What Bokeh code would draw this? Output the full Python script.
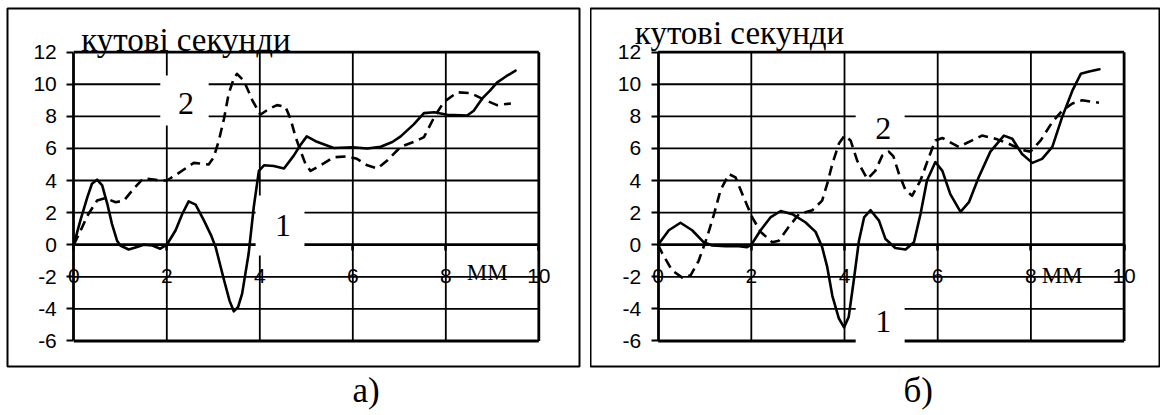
from bokeh.plotting import figure
from bokeh.layouts import row
from bokeh.models import Label, FixedTicker, Range1d
from bokeh.embed import file_html
from bokeh.resources import INLINE

# ---------------- data ----------------
Y_TICKS = [-6, -4, -2, 0, 2, 4, 6, 8, 10, 12]
X_TICKS = [0, 2, 4, 6, 8, 10]
X_GRID = [2, 4, 6, 8, 10]
Y_TITLE = "кутові секунди"
X_TITLE = "ММ"
CAPTIONS = ["а)", "б)"]
SERIES_NAMES = ["1", "2"]

# panel а) curve 1 (solid)
a1_x = [0, 0.14, 0.29, 0.39, 0.5, 0.61, 0.72, 0.82, 0.93, 1.0, 1.18, 1.36, 1.5, 1.69, 1.86, 2.0,
        2.19, 2.33, 2.47, 2.62, 2.8, 2.95, 3.05, 3.23, 3.35, 3.44, 3.53, 3.62, 3.76, 3.87, 3.98,
        4.09, 4.3, 4.52, 4.73, 4.87, 5.01, 5.2, 5.59, 6.0, 6.31, 6.6, 6.85, 7.03, 7.31, 7.53,
        7.75, 8.03, 8.46, 8.6, 8.78, 8.95, 9.1, 9.3, 9.5]
a1_y = [0, 1.5, 2.95, 3.8, 4.05, 3.7, 2.55, 1.3, 0.25, -0.05, -0.3, -0.15, 0, -0.05, -0.25, 0,
        0.9, 1.9, 2.7, 2.5, 1.5, 0.6, -0.15, -2.2, -3.5, -4.15, -3.9, -3.05, -0.55, 2.35, 4.6,
        4.95, 4.9, 4.75, 5.55, 6.2, 6.75, 6.45, 6.03, 6.07, 6.0, 6.1, 6.4, 6.75, 7.5, 8.2,
        8.25, 8.1, 8.05, 8.35, 9.1, 9.6, 10.1, 10.5, 10.85]
# panel а) curve 2 (dashed)
a2_x = [0, 0.15, 0.29, 0.5, 0.68, 0.9, 1.08, 1.29, 1.5, 1.86, 2.0, 2.22, 2.58, 2.9, 3.01, 3.12,
        3.23, 3.33, 3.44, 3.51, 3.66, 3.84, 4.01, 4.19, 4.37, 4.55, 4.66, 4.77, 4.87, 4.98, 5.09,
        5.31, 5.59, 5.88, 6.09, 6.31, 6.53, 6.74, 7.03, 7.31, 7.53, 7.75, 7.96, 8.25, 8.53, 8.78,
        9.1, 9.4]
a2_y = [0, 0.9, 1.8, 2.75, 2.9, 2.65, 2.75, 3.5, 4.15, 4.0, 4.0, 4.4, 5.1, 5.0, 5.45, 6.5,
        7.85, 9.4, 10.35, 10.65, 10.2, 9.0, 8.1, 8.45, 8.7, 8.6, 7.85, 6.7, 5.9, 5.05, 4.6,
        4.95, 5.45, 5.5, 5.35, 4.95, 4.75, 5.25, 6.1, 6.4, 6.7, 7.95, 8.9, 9.5, 9.45, 9.1,
        8.7, 8.8]

# panel б) curve 1 (solid)
b1_x = [0, 0.23, 0.48, 0.73, 0.98, 1.16, 1.45, 1.73, 1.91, 2.0, 2.2, 2.41, 2.63, 2.88, 3.16,
        3.38, 3.52, 3.63, 3.74, 3.88, 3.99, 4.09, 4.2, 4.31, 4.42, 4.56, 4.74, 4.88, 5.09, 5.31,
        5.49, 5.63, 5.77, 5.95, 6.1, 6.27, 6.49, 6.67, 6.88, 7.13, 7.42, 7.6, 7.81, 8.03, 8.24,
        8.46, 8.67, 8.89, 9.07, 9.25, 9.47]
b1_y = [0, 0.9, 1.37, 0.9, 0.15, -0.05, -0.1, -0.1, -0.15, 0, 0.9, 1.7, 2.1, 1.9, 1.4,
        0.8, -0.15, -1.4, -3.2, -4.6, -5.15, -4.5, -2.2, 0.25, 1.7, 2.15, 1.5, 0.35, -0.2, -0.3,
        0.15, 1.9, 4.0, 5.15, 4.6, 3.15, 2.05, 2.65, 4.2, 5.8, 6.8, 6.6, 5.65, 5.1, 5.35,
        6.1, 7.95, 9.6, 10.65, 10.8, 10.93]
# panel б) curve 2 (dashed)
b2_x = [0, 0.09, 0.3, 0.52, 0.7, 0.87, 1.05, 1.2, 1.34, 1.52, 1.66, 1.8, 2.02, 2.2, 2.45, 2.59,
        2.8, 3.02, 3.31, 3.52, 3.63, 3.74, 3.88, 4.0, 4.13, 4.27, 4.49, 4.66, 4.81, 4.95, 5.05,
        5.17, 5.31, 5.45, 5.63, 5.81, 5.95, 6.1, 6.45, 6.74, 6.95, 7.24, 7.52, 7.81, 7.99, 8.21,
        8.46, 8.67, 8.89, 9.1, 9.46]
b2_y = [0, -0.55, -1.6, -2.05, -1.9, -1.0, 0.47, 1.9, 3.4, 4.4, 4.2, 3.2, 1.7, 0.8, 0.15, 0.25,
        1.1, 1.9, 2.15, 2.75, 3.8, 5.05, 6.3, 6.8, 6.5, 5.25, 4.1, 4.6, 5.55, 5.8, 5.5,
        4.4, 3.4, 3.05, 4.0, 5.45, 6.5, 6.65, 6.1, 6.5, 6.8, 6.6, 6.3, 5.9, 5.8, 6.5,
        7.65, 8.35, 8.8, 9.0, 8.85]

SANS = "Liberation Sans"
SERIF = "Liberation Serif"


def make_panel(x1, y1, x2, y2, width, min_left, min_right, xr, yr, label_boxes, labels,
               ytitle_xy, xtitle_xy, caption, caption_offset):
    p = figure(width=width, height=415, x_range=Range1d(*xr), y_range=Range1d(*yr),
               output_backend="svg", toolbar_location=None, title=caption,
               title_location="below",
               min_border_left=min_left, min_border_right=min_right, min_border_top=8,
               min_border_bottom=49)
    p.title.align = "left"
    p.title.offset = caption_offset
    p.title.vertical_align = "top"
    p.title.standoff = 8
    p.title.text_font = SERIF
    p.title.text_font_size = "35px"
    p.title.text_font_style = "normal"
    p.title.text_color = "black"

    p.grid.visible = False
    p.outline_line_color = "black"
    p.outline_line_width = 2
    p.background_fill_color = "white"
    p.border_fill_color = "white"

    # y axis at x = 0
    ya = p.yaxis[0]
    ya.fixed_location = 0
    ya.ticker = FixedTicker(ticks=Y_TICKS)
    ya.bounds = (Y_TICKS[0], Y_TICKS[-1])
    ya.major_label_overrides = {t: str(t) for t in Y_TICKS}
    ya.axis_line_width = 2.8
    ya.axis_line_color = "black"
    ya.major_tick_in = 0
    ya.major_tick_out = 7
    ya.major_tick_line_width = 2
    ya.minor_tick_line_color = None
    ya.major_label_standoff = 10
    ya.major_label_text_font = SANS
    ya.major_label_text_font_size = "21px"
    ya.major_label_text_color = "black"

    # x axis at y = 0
    xa = p.xaxis[0]
    xa.fixed_location = 0
    xa.ticker = FixedTicker(ticks=X_TICKS)
    xa.major_label_overrides = {t: str(t) for t in X_TICKS}
    xa.axis_line_color = None
    xa.major_tick_in = 0
    xa.major_tick_out = 6
    xa.major_tick_line_width = 2.5
    xa.minor_tick_line_color = None
    xa.major_label_standoff = 18
    xa.major_label_text_font = SANS
    xa.major_label_text_font_size = "21px"
    xa.major_label_text_color = "black"
    xa.level = "underlay"

    # grid (horizontal and vertical)
    x_lo, x_hi = X_TICKS[0], X_TICKS[-1]
    y_lo, y_hi = Y_TICKS[0], Y_TICKS[-1]
    hw = [2.8 if v in (y_lo, 0, y_hi) else 1.8 for v in Y_TICKS]
    p.segment(x0=[x_lo] * len(Y_TICKS), y0=Y_TICKS, x1=[x_hi] * len(Y_TICKS), y1=Y_TICKS,
              line_color="black", line_width=hw)
    vw = [2.8 if v == x_hi else 1.8 for v in X_GRID]
    p.segment(x0=X_GRID, y0=[y_lo] * len(X_GRID), x1=X_GRID, y1=[y_hi] * len(X_GRID),
              line_color="black", line_width=vw)

    # white backgrounds of the series labels
    p.quad(left=[b[0] for b in label_boxes], right=[b[1] for b in label_boxes],
           bottom=[b[2] for b in label_boxes], top=[b[3] for b in label_boxes],
           fill_color="white", line_color=None)

    # curves
    p.line(x1, y1, line_color="black", line_width=2.6, line_join="round", line_cap="round")
    p.line(x2, y2, line_color="black", line_width=2.6, line_dash="10 6", line_join="round")

    for (lx, ly), txt in zip(labels, SERIES_NAMES):
        p.add_layout(Label(x=lx, y=ly, text=txt, text_font=SERIF, text_font_size="32px",
                           text_align="center", text_baseline="alphabetic",
                           text_color="black"))
    p.add_layout(Label(x=ytitle_xy[0], y=ytitle_xy[1], text=Y_TITLE, text_font=SERIF,
                       text_font_size="33px", text_align="left", text_baseline="alphabetic",
                       text_color="black"))
    p.add_layout(Label(x=xtitle_xy[0], y=xtitle_xy[1], text=X_TITLE, text_font=SERIF,
                       text_font_size="23px", text_align="left", text_baseline="alphabetic",
                       text_color="black"))
    return p


pa = make_panel(a1_x, a1_y, a2_x, a2_y, width=590, min_left=7, min_right=11,
                xr=(-1.426, 10.875), yr=(-7.59, 14.72),
                label_boxes=[(3.91, 4.96, -0.67, 3.07), (1.86, 2.90, 7.43, 10.54)],
                labels=[(4.50, 1.19), (2.41, 8.79)],
                ytitle_xy=(0.16, 12.74), xtitle_xy=(8.45, -1.73),
                caption=CAPTIONS[0], caption_offset=345)

pb = make_panel(b1_x, b1_y, b2_x, b2_y, width=570, min_left=0, min_right=0,
                xr=(-1.451, 10.781), yr=(-7.59, 14.72),
                label_boxes=[(4.24, 5.29, -6.6, -3.0), (4.24, 5.29, 6.4, 9.3)],
                labels=[(4.83, -4.79), (4.83, 7.24)],
                ytitle_xy=(-0.5, 13.18), xtitle_xy=(8.23, -1.91),
                caption=CAPTIONS[1], caption_offset=313)

layout = row(pa, pb)
open("out.html", "w").write(file_html(layout, INLINE))
